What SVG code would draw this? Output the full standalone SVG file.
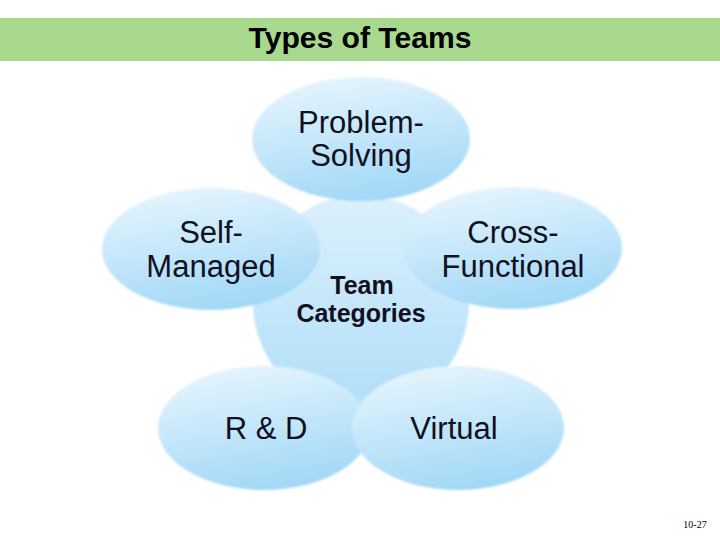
<svg xmlns="http://www.w3.org/2000/svg" width="720" height="540" viewBox="0 0 720 540">
<defs>
<linearGradient id="gEll" x1="0.3" y1="0" x2="0.6" y2="1">
<stop offset="0" stop-color="#e6f5fd"/>
<stop offset="1" stop-color="#a0d7f7"/>
</linearGradient>
<linearGradient id="gCore" x1="0" y1="0" x2="0" y2="1">
<stop offset="0" stop-color="#dcf0fc"/>
<stop offset="1" stop-color="#b0def8"/>
</linearGradient>
<filter id="soft" x="-5%" y="-5%" width="110%" height="110%">
<feGaussianBlur stdDeviation="1.2"/>
</filter>
<style>
.ell{fill:url(#gEll);filter:url(#soft);}
.lbl{font-family:"Liberation Sans",Arial,sans-serif;font-size:31px;fill:#10101e;text-anchor:middle;}
.core{font-family:"Liberation Sans",Arial,sans-serif;font-size:25px;font-weight:bold;fill:#10101e;text-anchor:middle;}
</style>
</defs>
<rect width="720" height="540" fill="#ffffff"/>
<g id="title">
<rect x="0" y="18" width="720" height="43" fill="#a9d98d"/>
<text x="360" y="48" font-family="'Liberation Sans',Arial,sans-serif" font-size="29" font-weight="bold" fill="#000" text-anchor="middle" textLength="223" lengthAdjust="spacingAndGlyphs">Types of Teams</text>
</g>
<g id="connectors"></g>
<g id="team-categories-shape">
<circle cx="361" cy="303" r="108" fill="url(#gCore)" filter="url(#soft)"/>
</g>
<g id="problem-solving">
<ellipse class="ell" cx="361" cy="139" rx="109" ry="62"/>
<text class="lbl" x="361" y="133">Problem-</text>
<text class="lbl" x="361" y="166">Solving</text>
</g>
<g id="self-managed">
<ellipse class="ell" cx="211" cy="249" rx="109" ry="61"/>
<text class="lbl" x="211" y="243">Self-</text>
<text class="lbl" x="211" y="277">Managed</text>
</g>
<g id="cross-functional">
<ellipse class="ell" cx="513" cy="248" rx="109" ry="61"/>
<text class="lbl" x="513" y="243">Cross-</text>
<text class="lbl" x="513" y="277">Functional</text>
</g>
<g id="r-and-d">
<ellipse class="ell" cx="264" cy="428" rx="106" ry="62"/>
<text class="lbl" x="266" y="439">R &amp; D</text>
</g>
<g id="virtual">
<ellipse class="ell" cx="458" cy="428" rx="106" ry="62"/>
<text class="lbl" x="454" y="439">Virtual</text>
</g>
<g id="team-categories">
<text class="core" x="362" y="294">Team</text>
<text class="core" x="361" y="322">Categories</text>
</g>
<text x="695" y="528" font-family="'Liberation Serif','Times New Roman',serif" font-size="10" fill="#000" text-anchor="middle">10-27</text>
</svg>
